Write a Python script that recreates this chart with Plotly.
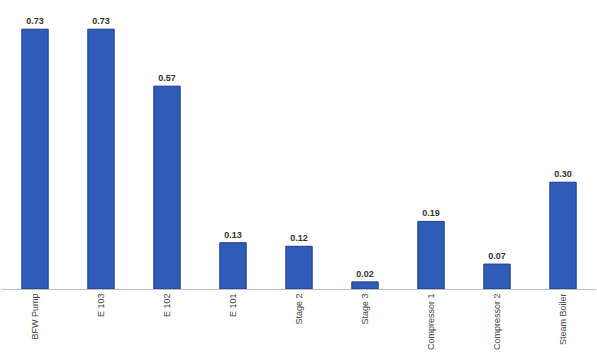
import plotly.graph_objects as go

categories = ["BFW Pump", "E 103", "E 102", "E 101", "Stage 2", "Stage 3",
              "Compressor 1", "Compressor 2", "Steam Boiler"]
values = [0.73, 0.73, 0.57, 0.13, 0.12, 0.02, 0.19, 0.07, 0.30]
labels = ["0.73", "0.73", "0.57", "0.13", "0.12", "0.02", "0.19", "0.07", "0.30"]

fig = go.Figure(go.Bar(
    x=categories, y=values, text=labels, textposition="outside",
    textfont=dict(family="Liberation Sans, Arial", size=9, color="#333333"),
    texttemplate="<b>%{text}</b>",
    marker=dict(color="#2F5CB8", line=dict(color="#1E3C85", width=1)),
    width=0.4, cliponaxis=False,
))

fig.update_layout(
    width=597, height=356,
    margin=dict(l=2, r=1, t=0, b=67),
    plot_bgcolor="white", paper_bgcolor="white",
    showlegend=False,
    xaxis=dict(tickangle=-90, tickfont=dict(family="Liberation Sans, Arial", size=9, color="#444444"),
               showline=True, linecolor="#BFBFBF", linewidth=1, ticks="", showgrid=False),
    yaxis=dict(range=[0, 0.812], visible=False, showgrid=False),
)

fig.write_html("out.html")
